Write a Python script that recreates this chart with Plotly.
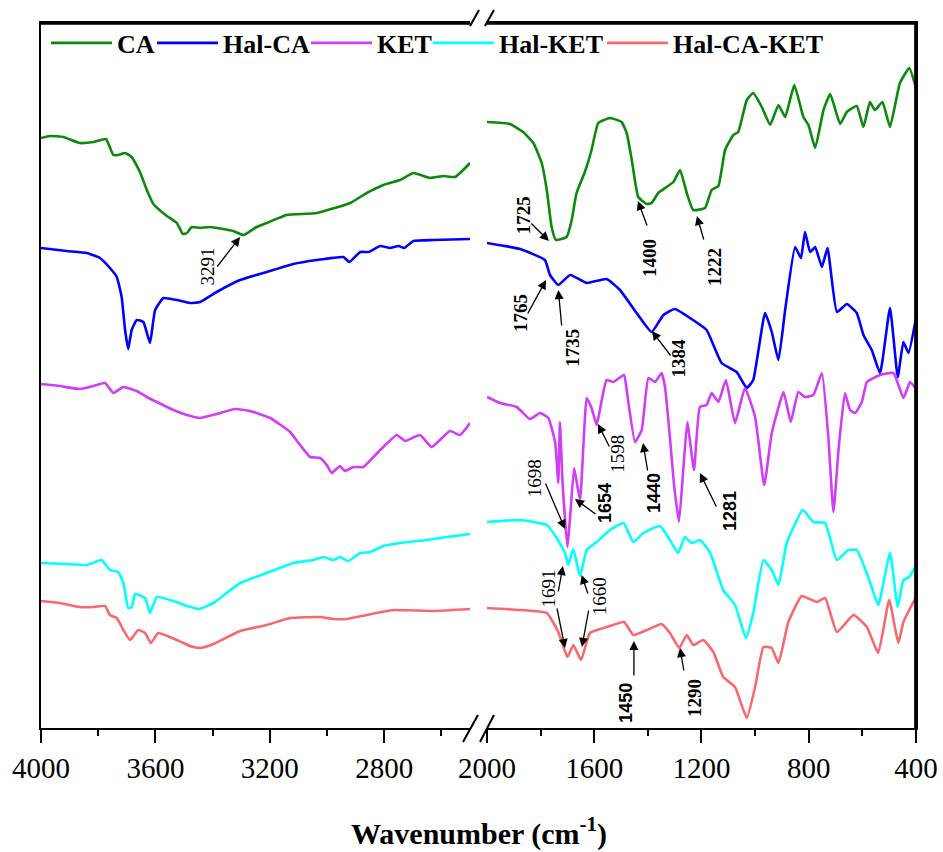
import plotly.graph_objects as go

# ---------------- data (transmittance in arbitrary units) -------------
CA_WN_HIGH = [4000, 3969, 3922, 3864, 3817, 3773, 3747, 3730, 3706, 3683, 3654, 3630, 3607, 3560, 3525, 3504, 3490,
              3473, 3444, 3409, 3328, 3292, 3246, 3211, 3141, 3036, 2919, 2861, 2803, 2745, 2698, 2640, 2593, 2552, 2500]
CA_T_HIGH = [590, 592, 591, 585, 586, 589, 573, 573, 575, 571, 556, 538, 524, 512, 505, 494, 495,
             501, 500, 501, 497, 493, 501, 505, 513, 515, 525, 535, 543, 548, 555, 550, 552, 551, 565]
CA_WN_LOW = [2000, 1914, 1865, 1827, 1796, 1777, 1759, 1743, 1703, 1684, 1666, 1635, 1610, 1585, 1541, 1498, 1479,
             1460, 1436, 1404, 1386, 1361, 1305, 1280, 1255, 1231, 1187, 1162, 1137, 1112, 1081, 1063, 1031, 1007,
             975, 944, 913, 888, 854, 820, 801, 776, 745, 720, 683, 658, 621, 596, 572, 553, 525, 497, 460, 425, 400]
CA_T_LOW = [606, 604, 596, 585, 565, 538, 501, 488, 491, 508, 535, 556, 578, 605, 610, 606, 595,
            568, 531, 524, 525, 535, 546, 558, 535, 518, 520, 538, 542, 578, 593, 596, 628, 635,
            621, 603, 623, 611, 643, 611, 603, 580, 618, 634, 604, 616, 622, 601, 626, 618, 626, 601, 645, 660, 640]

HALCA_WN_HIGH = [4000, 3910, 3840, 3794, 3759, 3735, 3718, 3706, 3695, 3683, 3665, 3642, 3619, 3601, 3572, 3525,
                 3479, 3444, 3386, 3304, 3211, 3118, 3036, 2943, 2922, 2884, 2855, 2814, 2780, 2750, 2730, 2698,
                 2628, 2500]
HALCA_T_HIGH = [480, 477, 475, 470, 460, 451, 431, 398, 379, 398, 408, 406, 385, 418, 430, 428,
                425, 426, 436, 448, 456, 464, 468, 471, 466, 476, 476, 482, 480, 482, 480, 487,
                488, 489]
HALCA_WN_LOW = [2000, 1877, 1784, 1765, 1734, 1690, 1628, 1554, 1504, 1442, 1386, 1342, 1299, 1243, 1181, 1125,
                1069, 1031, 1007, 963, 938, 913, 888, 851, 829, 814, 795, 776, 751, 730, 695, 658, 621, 596,
                565, 534, 497, 468, 447, 428, 400]
HALCA_T_LOW = [485, 479, 468, 453, 443, 453, 445, 449, 438, 415, 396, 413, 419, 410, 398, 365,
               356, 340, 348, 415, 396, 368, 418, 481, 470, 496, 476, 481, 461, 480, 416, 424, 415, 393,
               378, 355, 420, 351, 386, 375, 410]

KET_WN_HIGH = [4000, 3934, 3864, 3805, 3776, 3747, 3712, 3665, 3630, 3595, 3537, 3490, 3444, 3386, 3322, 3269,
               3199, 3129, 3094, 3059, 3024, 3001, 2984, 2955, 2937, 2908, 2873, 2814, 2756, 2727, 2675, 2634,
               2570, 2535, 2500]
KET_T_HIGH = [344, 342, 339, 343, 345, 335, 341, 337, 331, 326, 318, 313, 310, 314, 319, 317,
              310, 296, 283, 271, 270, 263, 255, 262, 257, 261, 261, 278, 293, 287, 293, 281,
              297, 293, 305]
KET_WN_LOW = [2000, 1951, 1889, 1840, 1802, 1771, 1746, 1734, 1728, 1718, 1700, 1690, 1675, 1653, 1628, 1610,
              1591, 1572, 1554, 1529, 1489, 1479, 1448, 1423, 1398, 1373, 1349, 1336, 1318, 1303, 1284, 1268,
              1253, 1228, 1206, 1181, 1162, 1137, 1109, 1075, 1038, 1000, 966, 938, 894, 867, 839, 814, 783,
              751, 727, 708, 689, 665, 646, 627, 602, 583, 534, 484, 447, 422, 400]
KET_T_LOW = [331, 325, 321, 309, 315, 310, 286, 245, 306, 245, 181, 211, 260, 228, 330, 320,
             303, 328, 348, 346, 353, 338, 286, 298, 350, 346, 355, 341, 291, 245, 206, 258,
             306, 258, 321, 323, 335, 326, 348, 305, 340, 311, 243, 295, 336, 306, 336, 331, 333,
             355, 291, 216, 278, 335, 318, 315, 326, 346, 353, 355, 330, 346, 339]

HALKET_WN_HIGH = [4000, 3910, 3840, 3788, 3759, 3730, 3712, 3695, 3683, 3671, 3636, 3619, 3595, 3537, 3490, 3447,
                  3397, 3304, 3211, 3118, 3048, 3013, 2978, 2955, 2926, 2884, 2849, 2803, 2745, 2651, 2582, 2500]
HALKET_T_HIGH = [165, 164, 163, 168, 158, 156, 145, 120, 121, 134, 130, 115, 131, 127, 122, 119,
                 125, 145, 155, 165, 168, 171, 168, 171, 167, 175, 176, 182, 185, 188, 191, 194]
HALKET_WN_LOW = [2000, 1877, 1777, 1740, 1709, 1697, 1678, 1653, 1628, 1591, 1541, 1491, 1454, 1417, 1355, 1318,
                 1287, 1262, 1237, 1206, 1169, 1119, 1075, 1034, 1007, 969, 938, 913, 882, 822, 783, 739, 695,
                 652, 621, 578, 541, 497, 468, 447, 425, 400]
HALKET_T_LOW = [206, 208, 203, 190, 175, 163, 179, 152, 178, 186, 198, 205, 186, 195, 202, 188,
                175, 191, 185, 188, 176, 138, 123, 90, 115, 168, 158, 143, 185, 218, 206, 205, 168,
                178, 178, 151, 123, 175, 121, 148, 151, 163]

HALCAKET_WN_HIGH = [4000, 3934, 3864, 3817, 3776, 3759, 3735, 3712, 3689, 3660, 3636, 3616, 3590, 3525, 3479, 3444,
                    3397, 3304, 3211, 3129, 3024, 2978, 2931, 2861, 2768, 2628, 2500]
HALCAKET_T_HIGH = [127, 125, 121, 121, 122, 113, 110, 98, 88, 98, 95, 85, 95, 88, 82, 80,
                   84, 97, 103, 110, 111, 109, 109, 113, 118, 117, 119]
HALCAKET_WN_LOW = [2000, 1877, 1777, 1734, 1700, 1678, 1649, 1616, 1541, 1489, 1454, 1404, 1349, 1318, 1283, 1255,
                   1231, 1193, 1156, 1119, 1075, 1031, 1000, 969, 938, 913, 876, 826, 770, 739, 695, 633, 583,
                   541, 500, 466, 447, 400]
HALCAKET_T_LOW = [120, 118, 115, 96, 71, 83, 68, 95, 102, 106, 93, 98, 104, 95, 80, 93,
                  83, 88, 76, 51, 41, 10, 41, 81, 80, 65, 106, 132, 126, 130, 96, 113, 101,
                  75, 128, 85, 106, 131]

SAMPLE_NAMES = ["CA", "Hal-CA", "KET", "Hal-KET", "Hal-CA-KET"]
SAMPLE_COLORS = ["#0a8a0a", "#0000ff", "#d23cf7", "#00ffff", "#f9686b"]

X_TICKS_HIGH = [4000, 3600, 3200, 2800]
X_TICKS_LOW = [2000, 1600, 1200, 800, 400]

# peak labels: text, axis ("high" / "low"), x, y, style
LABEL_TEXT = ["3291", "1725", "1400", "1222", "1765", "1735", "1384", "1698",
              "1654", "1598", "1440", "1281", "1691", "1660", "1450", "1290"]
LABEL_AXIS = ["high"] + ["low"] * 15
LABEL_X = [3418, 1865, 1396, 1153, 1877, 1684, 1286, 1824, 1560, 1516, 1377, 1094, 1771, 1581, 1482, 1228]
LABEL_Y = [462, 513, 470, 461, 415, 380, 370, 250, 225, 274, 235, 217, 140, 132, 25, 30]
LABEL_STYLE = ["serif", "serifb", "serifb", "serifb", "serifb", "serifb", "serifb", "serif",
               "sansb", "serif", "sansb", "sansb", "serif", "serif", "sansb", "serifb"]

# arrows: axis, tail x, tail y, head x, head y
ARROW_AXIS = ["high"] + ["low"] * 17
ARROW_TAIL_X = [3388, 1840, 1401, 1190, 1851, 1721, 1311, 1784, 1590, 1541, 1400, 1142, 1735, 1740, 1622, 1620, 1452, 1265]
ARROW_TAIL_Y = [460, 506, 501, 487, 413, 401, 371, 246, 213, 280, 256, 220, 135, 121, 133, 119, 51, 56]
ARROW_HEAD_X = [3304, 1769, 1437, 1217, 1780, 1734, 1385, 1709, 1672, 1586, 1418, 1206, 1717, 1709, 1647, 1646, 1452, 1280]
ARROW_HEAD_Y = [491, 487, 527, 512, 448, 438, 397, 199, 229, 304, 285, 255, 162, 80, 153, 81, 87, 80]

HIGH = [(CA_WN_HIGH, CA_T_HIGH), (HALCA_WN_HIGH, HALCA_T_HIGH), (KET_WN_HIGH, KET_T_HIGH),
        (HALKET_WN_HIGH, HALKET_T_HIGH), (HALCAKET_WN_HIGH, HALCAKET_T_HIGH)]
LOW = [(CA_WN_LOW, CA_T_LOW), (HALCA_WN_LOW, HALCA_T_LOW), (KET_WN_LOW, KET_T_LOW),
       (HALKET_WN_LOW, HALKET_T_LOW), (HALCAKET_WN_LOW, HALCAKET_T_LOW)]

SERIF = "Liberation Serif, Times New Roman, serif"
SANS = "Liberation Sans, Arial, sans-serif"

LEGEND_IDS = ["legend", "legend2", "legend3", "legend4", "legend5"]
LEGEND_X = [0.0057, 0.1269, 0.3029, 0.4423, 0.6411]

fig = go.Figure()
for name, color, lg, (wx, ty) in zip(SAMPLE_NAMES, SAMPLE_COLORS, LEGEND_IDS, HIGH):
    fig.add_trace(go.Scatter(x=wx, y=ty, mode="lines", name=name, legendgroup=name, legend=lg,
                             line=dict(color=color, width=2.6, shape="spline", smoothing=0.4),
                             xaxis="x", yaxis="y"))
for name, color, (wx, ty) in zip(SAMPLE_NAMES, SAMPLE_COLORS, LOW):
    fig.add_trace(go.Scatter(x=wx, y=ty, mode="lines", name=name, legendgroup=name, showlegend=False,
                             line=dict(color=color, width=2.6, shape="spline", smoothing=0.4),
                             xaxis="x2", yaxis="y2"))

annotations = []
for t, ax_, x, y, st in zip(LABEL_TEXT, LABEL_AXIS, LABEL_X, LABEL_Y, LABEL_STYLE):
    xr, yr = ("x", "y") if ax_ == "high" else ("x2", "y2")
    fam = SANS if st == "sansb" else SERIF
    txt = t if st == "serif" else "<b>%s</b>" % t
    annotations.append(dict(text=txt, x=x, y=y, xref=xr, yref=yr, showarrow=False, textangle=-90,
                            font=dict(family=fam, size=19 if st != "sansb" else 18, color="black")))
for ax_, tx, ty, hx, hy in zip(ARROW_AXIS, ARROW_TAIL_X, ARROW_TAIL_Y, ARROW_HEAD_X, ARROW_HEAD_Y):
    xr, yr = ("x", "y") if ax_ == "high" else ("x2", "y2")
    annotations.append(dict(text="", x=hx, y=hy, xref=xr, yref=yr, ax=tx, ay=ty, axref=xr, ayref=yr,
                            showarrow=True, arrowhead=2, arrowsize=1.4, arrowwidth=1.3, arrowcolor="black",
                            standoff=0, startstandoff=0))

annotations.append(dict(text="<b>Wavenumber (cm<sup>-1</sup>)</b>", x=0.5, y=-0.147, xref="paper", yref="paper",
                        showarrow=False, yanchor="middle", font=dict(family=SERIF, size=30, color="black")))

# frame pieces and broken-axis marks (paper coordinates)
L_END, R_START = 0.4903, 0.5097
shapes = []
frame = [(0, 0.999, L_END, 0.999), (R_START, 0.999, 1, 0.999), (0.999, 0, 0.999, 1)]
for (x0, y0, x1, y1) in frame:
    shapes.append(dict(type="line", xref="paper", yref="paper", x0=x0, y0=y0, x1=x1, y1=y1,
                       layer="above", line=dict(color="black", width=2)))
for (x0, y0, x1, y1) in [(0.4903, 0.9957, 0.5006, 1.0184), (0.5074, 0.9957, 0.5177, 1.0184),
                         (0.4823, -0.0199, 0.4994, 0.0184), (0.5017, -0.0199, 0.5177, 0.0184)]:
    shapes.append(dict(type="line", xref="paper", yref="paper", x0=x0, y0=y0, x1=x1, y1=y1,
                       line=dict(color="black", width=2)))

axis_common = dict(showline=True, linecolor="black", linewidth=2, mirror=True, ticks="outside",
                   ticklen=13, tickwidth=2, tickcolor="black", showgrid=False, zeroline=False,
                   ticklabeloverflow="allow",
                   tickfont=dict(family=SERIF, size=29, color="black"))
minor_ticks = dict(dtick=200, ticklen=6, tickwidth=2, tickcolor="black", ticks="outside")

legend_style = dict(orientation="h", y=0.9716, xanchor="left", yanchor="middle",
                    font=dict(family=SERIF, size=26, color="black", weight="bold"),
                    bgcolor="rgba(0,0,0,0)", itemwidth=61, borderwidth=0)
legends = {lg: dict(x=lx, **legend_style) for lg, lx in zip(LEGEND_IDS, LEGEND_X)}

fig.update_layout(
    width=943, height=852,
    margin=dict(l=41, r=27, t=23, b=124, autoexpand=False),
    paper_bgcolor="white", plot_bgcolor="white",
    xaxis=dict(domain=[0, L_END], range=[4000, 2500], tickvals=X_TICKS_HIGH, minor=minor_ticks,
               anchor="y", **axis_common),
    xaxis2=dict(domain=[R_START, 1], range=[2000, 400], tickvals=X_TICKS_LOW, minor=minor_ticks,
                anchor="y2", **axis_common),
    yaxis=dict(domain=[0, 1], range=[0, 705], anchor="x", showline=True, linecolor="black", linewidth=2,
               showticklabels=False, ticks="", showgrid=False, zeroline=False),
    yaxis2=dict(domain=[0, 1], range=[0, 705], anchor="x2", side="right", showline=True, linecolor="black",
                linewidth=2, showticklabels=False, ticks="", showgrid=False, zeroline=False),
    annotations=annotations,
    shapes=shapes,
    showlegend=True,
    **legends,
)

# the page body has a default 8px margin; remove it so the 943x852 figure fills the window
fig.write_html("out.html", config={"displayModeBar": False},
               post_script="document.body.style.margin='0px';")
